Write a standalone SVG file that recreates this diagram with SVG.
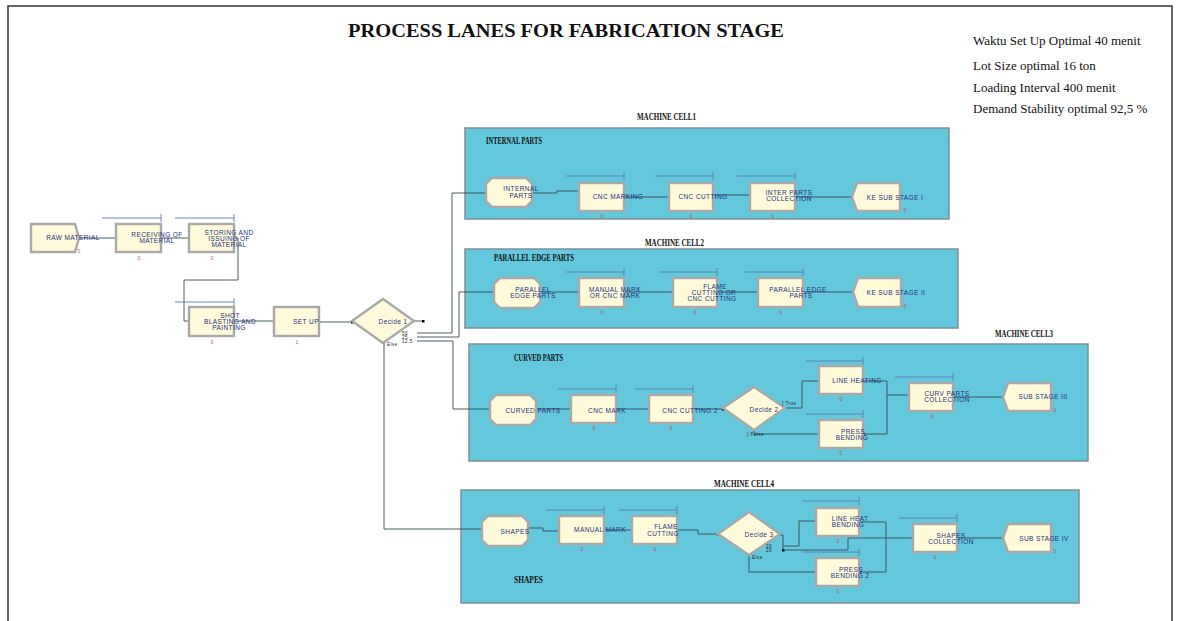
<svg xmlns="http://www.w3.org/2000/svg" width="1180" height="621" viewBox="0 0 1180 621">
<style>
.frame{fill:#fff;stroke:#333;stroke-width:1.5}
.cell{fill:#63C8DC;stroke:#7d8f96;stroke-width:1.5}
.box{fill:#FFFBDA;stroke:#A9A9A9;stroke-width:2.4}
.q{fill:none;stroke:#5a7fb0;stroke-width:0.9}
.c{fill:none;stroke:#3a4a50;stroke-width:0.9;marker-end:url(#dot)}
.t{font-family:"Liberation Sans",Arial,sans-serif;font-size:6.5px;fill:#23327c;text-anchor:middle;letter-spacing:0.4px}
.s{font-family:"Liberation Sans",Arial,sans-serif;font-size:4.5px;fill:#222;letter-spacing:0.5px}
.n{font-family:"Liberation Sans",Arial,sans-serif;font-size:5px;fill:#c05050;text-anchor:middle}
.title{font-family:"Liberation Serif","Times New Roman",serif;font-weight:bold;font-size:19px;fill:#111}
.ct{font-family:"Liberation Serif","Times New Roman",serif;font-weight:bold;font-size:10px;fill:#111}
.info{font-family:"Liberation Serif","Times New Roman",serif;font-size:13px;fill:#111}
</style>
<defs>
<marker id="dot" markerWidth="3" markerHeight="3" refX="1.5" refY="1.5" markerUnits="userSpaceOnUse"><rect x="0" y="0" width="3" height="3" fill="#000"/></marker>
</defs>
<rect class="frame" x="8" y="6" width="1164" height="640"/>
<text class="title" x="348" y="37" textLength="436" lengthAdjust="spacingAndGlyphs">PROCESS LANES FOR FABRICATION STAGE</text>
<g id="info">
<text class="info" x="973" y="45">Waktu Set Up Optimal 40 menit</text>
<text class="info" x="973" y="70">Lot Size optimal 16 ton</text>
<text class="info" x="973" y="92">Loading Interval 400 menit</text>
<text class="info" x="973" y="113">Demand Stability optimal 92,5 %</text>
</g>
<g id="cell1">
<rect class="cell" x="465" y="128" width="484" height="91"/>
<text class="ct" x="637" y="120" textLength="59" lengthAdjust="spacingAndGlyphs">MACHINE CELL1</text>
<text class="ct" x="486" y="144" font-size="9" textLength="56" lengthAdjust="spacingAndGlyphs">INTERNAL PARTS</text>
</g>
<g id="cell2">
<rect class="cell" x="465" y="249" width="493" height="79"/>
<text class="ct" x="645" y="246" textLength="59" lengthAdjust="spacingAndGlyphs">MACHINE CELL2</text>
<text class="ct" x="494" y="261" font-size="9" textLength="80" lengthAdjust="spacingAndGlyphs">PARALLEL EDGE PARTS</text>
</g>
<g id="cell3">
<rect class="cell" x="469" y="344" width="619" height="117"/>
<text class="ct" x="995" y="337" textLength="58" lengthAdjust="spacingAndGlyphs">MACHINE CELL3</text>
<text class="ct" x="514" y="361" font-size="9" textLength="49" lengthAdjust="spacingAndGlyphs">CURVED PARTS</text>
</g>
<g id="cell4">
<rect class="cell" x="461" y="490" width="618" height="113"/>
<text class="ct" x="714" y="487" textLength="60" lengthAdjust="spacingAndGlyphs">MACHINE CELL4</text>
<text class="ct" x="514" y="583" font-size="9" textLength="29" lengthAdjust="spacingAndGlyphs">SHAPES</text>
</g>
<g id="connectors">
<polyline class="c" points="79,238 116,238"/>
<polyline class="c" points="161,238 189,238"/>
<polyline class="c" points="234,238 238,238 238,280 184,280 184,321 189,321"/>
<polyline class="c" points="234,321 274,321"/>
<polyline class="c" points="319,322 352,322"/>
<polyline class="c" points="414,321 423,321"/>
<polyline class="c" points="417,333 452,333 452,193 486,193"/>
<polyline class="c" points="417,337 459,337 459,292 494,292"/>
<polyline class="c" points="417,341 453,341 453,409 490,409"/>
<polyline class="c" points="384,343 384,529 482,529"/>
<polyline class="c" points="532,193 557,193 557,191 579,191"/>
<polyline class="c" points="624,197 669,197"/>
<polyline class="c" points="713,195 750,195"/>
<polyline class="c" points="795,197 852,197"/>
<polyline class="c" points="540,292 579,292"/>
<polyline class="c" points="624,292 673,292"/>
<polyline class="c" points="717,292 758,292"/>
<polyline class="c" points="803,292 853,292"/>
<polyline class="c" points="536,409 571,409"/>
<polyline class="c" points="616,409 649,409"/>
<polyline class="c" points="693,409 723,409"/>
<polyline class="c" points="785,408 802,408 802,381 819,381"/>
<polyline class="c" points="754,430 754,434 819,434"/>
<polyline class="c" points="863,381 887,381 887,434 863,434"/>
<polyline class="c" points="887,395 909,395"/>
<polyline class="c" points="953,397 1003,397"/>
<polyline class="c" points="528,528 543,528 543,531 559,531"/>
<polyline class="c" points="604,530 632,530"/>
<polyline class="c" points="677,530 698,530 698,534 718,534"/>
<polyline class="c" points="780,535 783,535 783,550"/>
<polyline class="c" points="783,546 799,546 799,521 816,521"/>
<polyline class="c" points="783,550 848,550 848,538 913,538"/>
<polyline class="c" points="749,555 749,572 816,572"/>
<polyline class="c" points="859,522 886,522 886,572 859,572"/>
<polyline class="c" points="957,538 1003,538"/>
</g>
<g id="raw-material">
<polygon class="box" points="31,224 75,224 79,238 75,252 31,252"/>
<text class="t" x="73" y="240">RAW MATERIAL</text>
<text class="n" x="79" y="253" fill="#777">0</text>
</g>
<g id="receiving">
<path class="q" d="M102,218H161M161,214V222"/>
<rect class="box" x="116" y="224" width="45" height="28"/>
<text class="t" x="157" y="237">RECEIVING OF</text>
<text class="t" x="157" y="243">MATERIAL</text>
<text class="n" x="139" y="260">0</text>
</g>
<g id="storing">
<path class="q" d="M175,218H234M234,214V222"/>
<rect class="box" x="189" y="224" width="45" height="28"/>
<text class="t" x="229" y="235">STORING AND</text>
<text class="t" x="229" y="241">ISSUING OF</text>
<text class="t" x="229" y="247">MATERIAL</text>
<text class="n" x="212" y="260">0</text>
</g>
<g id="shot-blasting">
<path class="q" d="M175,302H234M234,298V306"/>
<rect class="box" x="189" y="307" width="45" height="29"/>
<text class="t" x="230" y="318">SHOT</text>
<text class="t" x="230" y="324">BLASTING AND</text>
<text class="t" x="229" y="330">PAINTING</text>
<text class="n" x="212" y="344">0</text>
</g>
<g id="set-up">
<rect class="box" x="274" y="307" width="45" height="29"/>
<text class="t" x="306" y="324">SET UP</text>
<text class="n" x="297" y="344">1</text>
</g>
<g id="decide-1">
<polygon class="box" points="352,321 383,299 414,321 383,343"/>
<text class="t" x="393" y="324">Decide 1</text>
<text class="s" x="402" y="335">50</text>
<text class="s" x="402" y="339">25</text>
<text class="s" x="402" y="343">12.5</text>
<text class="s" x="387" y="346">Else</text>
</g>
<g id="internal-parts">
<polygon class="box" points="492,178 526,178 532,184 532,201 526,207 492,207 486,201 486,184"/>
<text class="t" x="521" y="191">INTERNAL</text>
<text class="t" x="521" y="198">PARTS</text>
</g>
<g id="cnc-marking">
<path class="q" d="M566,176H624M624,172V180"/>
<rect class="box" x="579" y="183" width="45" height="28"/>
<text class="t" x="618" y="199">CNC MARKING</text>
<text class="n" x="602" y="218">0</text>
</g>
<g id="cnc-cutting">
<path class="q" d="M655,176H713M713,172V180"/>
<rect class="box" x="669" y="183" width="44" height="28"/>
<text class="t" x="703" y="199">CNC CUTTING</text>
<text class="n" x="691" y="218">0</text>
</g>
<g id="inter-parts-collection">
<path class="q" d="M737,176H795M795,172V180"/>
<rect class="box" x="750" y="183" width="45" height="28"/>
<text class="t" x="789" y="195">INTER PARTS</text>
<text class="t" x="789" y="201">COLLECTION</text>
<text class="n" x="773" y="218">0</text>
</g>
<g id="ke-sub-stage-1">
<polygon class="box" points="852,197 857,183 900,183 900,211 857,211"/>
<text class="t" x="895" y="200">KE SUB STAGE I</text>
<text class="n" x="905" y="212" fill="#777">0</text>
</g>
<g id="parallel-edge-parts-in">
<polygon class="box" points="500,278 534,278 540,284 540,302 534,308 500,308 494,302 494,284"/>
<text class="t" x="533" y="292">PARALLEL</text>
<text class="t" x="533" y="298">EDGE PARTS</text>
</g>
<g id="manual-mark-or-cnc">
<path class="q" d="M566,272H624M624,268V276"/>
<rect class="box" x="579" y="278" width="45" height="29"/>
<text class="t" x="615" y="292">MANUAL MARK</text>
<text class="t" x="615" y="298">OR CNC MARK</text>
<text class="n" x="602" y="314">0</text>
</g>
<g id="flame-or-cnc-cutting">
<path class="q" d="M659,272H717M717,268V276"/>
<rect class="box" x="673" y="278" width="44" height="29"/>
<text class="t" x="715" y="289">FLAME</text>
<text class="t" x="714" y="295">CUTTING OR</text>
<text class="t" x="712" y="301">CNC CUTTING</text>
<text class="n" x="695" y="314">0</text>
</g>
<g id="parallel-edge-parts">
<path class="q" d="M745,272H803M803,268V276"/>
<rect class="box" x="758" y="278" width="45" height="29"/>
<text class="t" x="798" y="292">PARALLEL EDGE</text>
<text class="t" x="801" y="298">PARTS</text>
<text class="n" x="781" y="314">0</text>
</g>
<g id="ke-sub-stage-2">
<polygon class="box" points="853,292 858,278 901,278 901,307 858,307"/>
<text class="t" x="896" y="295">KE SUB STAGE II</text>
<text class="n" x="905" y="308" fill="#777">0</text>
</g>
<g id="curved-parts">
<polygon class="box" points="496,395 530,395 536,401 536,419 530,425 496,425 490,419 490,401"/>
<text class="t" x="533" y="413">CURVED PARTS</text>
</g>
<g id="cnc-mark">
<path class="q" d="M558,389H616M616,385V393"/>
<rect class="box" x="571" y="395" width="45" height="28"/>
<text class="t" x="607" y="413">CNC MARK</text>
<text class="n" x="594" y="430">0</text>
</g>
<g id="cnc-cutting-2">
<path class="q" d="M635,389H693M693,385V393"/>
<rect class="box" x="649" y="395" width="44" height="28"/>
<text class="t" x="690" y="413">CNC CUTTING 2</text>
<text class="n" x="671" y="430">0</text>
</g>
<g id="decide-2">
<polygon class="box" points="723,408 754,387 785,408 754,430"/>
<text class="t" x="764" y="412">Decide 2</text>
<text class="s" x="782" y="405">] True</text>
<text class="s" x="747" y="436">] False</text>
</g>
<g id="line-heating">
<path class="q" d="M806,361H863M863,357V365"/>
<rect class="box" x="819" y="366" width="44" height="28"/>
<text class="t" x="857" y="383">LINE HEATING</text>
<text class="n" x="841" y="401">0</text>
</g>
<g id="press-bending">
<path class="q" d="M806,414H863M863,410V418"/>
<rect class="box" x="819" y="420" width="44" height="28"/>
<text class="t" x="853" y="434">PRESS</text>
<text class="t" x="852" y="440">BENDING</text>
<text class="n" x="841" y="455">0</text>
</g>
<g id="curv-parts-collection">
<path class="q" d="M895,377H953M953,373V381"/>
<rect class="box" x="909" y="383" width="44" height="28"/>
<text class="t" x="947" y="396">CURV PARTS</text>
<text class="t" x="947" y="402">COLLECTION</text>
<text class="n" x="932" y="418">0</text>
</g>
<g id="sub-stage-3">
<polygon class="box" points="1003,397 1008,383 1051,383 1051,411 1008,411"/>
<text class="t" x="1043" y="399">SUB STAGE III</text>
<text class="n" x="1055" y="412" fill="#777">0</text>
</g>
<g id="shapes">
<polygon class="box" points="488,516 522,516 528,522 528,540 522,546 488,546 482,540 482,522"/>
<text class="t" x="515" y="534">SHAPES</text>
</g>
<g id="manual-mark">
<path class="q" d="M546,510H604M604,506V514"/>
<rect class="box" x="559" y="516" width="45" height="28"/>
<text class="t" x="600" y="532">MANUAL MARK</text>
<text class="n" x="582" y="551">0</text>
</g>
<g id="flame-cutting">
<path class="q" d="M619,510H677M677,506V514"/>
<rect class="box" x="632" y="516" width="45" height="28"/>
<text class="t" x="666" y="529">FLAME</text>
<text class="t" x="663" y="536">CUTTING</text>
<text class="n" x="655" y="551">0</text>
</g>
<g id="decide-3">
<polygon class="box" points="718,534 749,512 780,534 749,555"/>
<text class="t" x="759" y="537">Decide 3</text>
<text class="s" x="766" y="548">20</text>
<text class="s" x="766" y="552">20</text>
<text class="s" x="752" y="559">Else</text>
</g>
<g id="line-heat-bending">
<path class="q" d="M802,501H859M859,497V505"/>
<rect class="box" x="816" y="508" width="43" height="28"/>
<text class="t" x="850" y="521">LINE HEAT</text>
<text class="t" x="848" y="527">BENDING</text>
<text class="n" x="838" y="543">0</text>
</g>
<g id="press-bending-2">
<path class="q" d="M802,552H859M859,548V556"/>
<rect class="box" x="816" y="558" width="43" height="28"/>
<text class="t" x="851" y="572">PRESS</text>
<text class="t" x="850" y="578">BENDING 2</text>
<text class="n" x="838" y="593">0</text>
</g>
<g id="shapes-collection">
<path class="q" d="M899,518H957M957,514V522"/>
<rect class="box" x="913" y="524" width="44" height="28"/>
<text class="t" x="951" y="538">SHAPES</text>
<text class="t" x="951" y="544">COLLECTION</text>
<text class="n" x="935" y="559">0</text>
</g>
<g id="sub-stage-4">
<polygon class="box" points="1003,538 1008,524 1051,524 1051,552 1008,552"/>
<text class="t" x="1044" y="541">SUB STAGE IV</text>
<text class="n" x="1055" y="553" fill="#777">0</text>
</g>
</svg>
